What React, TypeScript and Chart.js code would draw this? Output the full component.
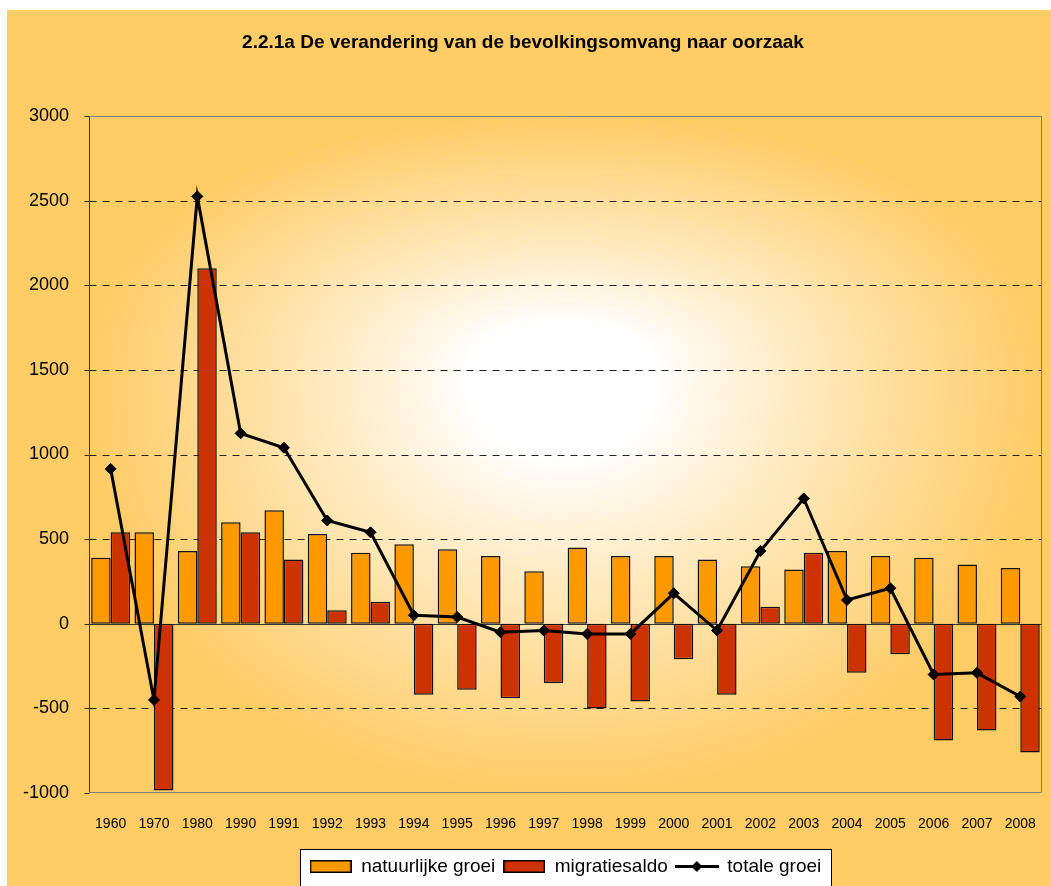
import React, { useEffect, useRef } from 'react';
import { Chart, registerables } from 'chart.js';

Chart.register(...registerables);

const categories = ['1960', '1970', '1980', '1990', '1991', '1992', '1993', '1994', '1995', '1996', '1997', '1998', '1999', '2000', '2001', '2002', '2003', '2004', '2005', '2006', '2007', '2008'];
const natuurlijkeGroei = [390, 540, 430, 600, 670, 530, 420, 470, 440, 400, 310, 450, 400, 400, 380, 340, 320, 430, 400, 390, 350, 330];
const migratiesaldo = [540, -985, 2100, 540, 380, 80, 130, -420, -390, -440, -350, -500, -460, -210, -420, 100, 420, -290, -180, -690, -630, -760];
const totaleGroei = [915, -450, 2525, 1125, 1040, 610, 540, 50, 40, -50, -40, -60, -60, 180, -40, 430, 740, 140, 210, -300, -290, -430];
const seriesNames = ['natuurlijke groei', 'migratiesaldo', 'totale groei'];
const titleText = '2.2.1a De verandering van de bevolkingsomvang naar oorzaak';
const yMin = -1000;
const yMax = 3000;
const yStep = 500;

const ORANGE_BG = [255, 204, 102];
const BAR_ORANGE = '#FF9900';
const BAR_RED = '#CC3300';
const FONT = "Arial, 'Liberation Sans', sans-serif";

function swatch(color: string) {
  const c = document.createElement('canvas');
  c.width = 42; c.height = 13;
  const g = c.getContext('2d')!;
  g.fillStyle = color;
  g.fillRect(1, 1, 40, 11);
  g.strokeStyle = '#000';
  g.lineWidth = 1.5;
  g.strokeRect(0.75, 0.75, 40.5, 11.5);
  return c;
}

function lineSymbol() {
  const c = document.createElement('canvas');
  c.width = 44; c.height = 13;
  const g = c.getContext('2d')!;
  g.strokeStyle = '#000';
  g.lineWidth = 3;
  g.beginPath(); g.moveTo(0, 6.5); g.lineTo(44, 6.5); g.stroke();
  g.fillStyle = '#000';
  g.beginPath(); g.moveTo(22, 1); g.lineTo(27.5, 6.5); g.lineTo(22, 12); g.lineTo(16.5, 6.5); g.closePath(); g.fill();
  return c;
}

let bgCache: { key: string; canvas: HTMLCanvasElement } | null = null;

function plotGradient(w: number, h: number) {
  const key = w + 'x' + h;
  if (bgCache && bgCache.key === key) return bgCache.canvas;
  const c = document.createElement('canvas');
  c.width = w; c.height = h;
  const g = c.getContext('2d')!;
  const img = g.createImageData(w, h);
  const cx = w / 2 - 5;
  const cy = h * 0.38;
  const p = 2.2;
  for (let y = 0; y < h; y++) {
    const ny = (y - cy) / (y < cy ? cy : h - cy);
    for (let x = 0; x < w; x++) {
      const nx = (x - cx) / (x < cx ? cx : w - cx);
      const t = Math.pow(Math.pow(Math.abs(nx), p) + Math.pow(Math.abs(ny), p), 1 / p);
      let f = (t - 0.2) / 0.8;
      f = Math.max(0, Math.min(1, f));
      f = Math.pow(f, 0.9);
      const i = (y * w + x) * 4;
      img.data[i] = 255 + (ORANGE_BG[0] - 255) * f;
      img.data[i + 1] = 255 + (ORANGE_BG[1] - 255) * f;
      img.data[i + 2] = 255 + (ORANGE_BG[2] - 255) * f;
      img.data[i + 3] = 255;
    }
  }
  g.putImageData(img, 0, 0);
  bgCache = { key, canvas: c };
  return c;
}

const decorPlugin = {
  id: 'decor',
  beforeDraw(chart: any) {
    const { ctx, width, height, chartArea: ca } = chart;
    ctx.save();
    ctx.fillStyle = '#ffffff';
    ctx.fillRect(0, 0, width, height);
    ctx.fillStyle = `rgb(${ORANGE_BG.join(',')})`;
    ctx.fillRect(7, 10, width - 7, height - 10);
    const l = Math.round(ca.left), t = Math.round(ca.top);
    const w = Math.round(ca.right) - l, h = Math.round(ca.bottom) - t;
    ctx.drawImage(plotGradient(w, h), l, t);
    const lg = chart.legend;
    if (lg && lg.legendHitBoxes && lg.legendHitBoxes.length) {
      const hb = lg.legendHitBoxes;
      const left = Math.round(Math.min(...hb.map((b: any) => b.left)) - 10);
      const right = Math.round(Math.max(...hb.map((b: any) => b.left + b.width)) + 10);
      const top = Math.round(hb[0].top + hb[0].height / 2 - 18);
      ctx.fillStyle = '#ffffff';
      ctx.fillRect(left, top, right - left, height - top + 10);
      ctx.strokeStyle = '#000';
      ctx.lineWidth = 1;
      ctx.strokeRect(left + 0.5, top + 0.5, right - left, height);
    }
    ctx.restore();
  },
  beforeDatasetsDraw(chart: any) {
    const { ctx, chartArea: ca, scales } = chart;
    const ys = scales.y;
    const L = Math.round(ca.left) + 0.5;
    const R = Math.round(ca.right) - 0.5;
    const T = Math.round(ca.top) + 0.5;
    const B = Math.round(ca.bottom) - 0.5;
    ctx.save();
    ctx.lineWidth = 1;
    ctx.strokeStyle = '#222';
    ctx.setLineDash([7, 6]);
    for (let v = yMin + yStep; v < yMax; v += yStep) {
      if (v === 0) continue;
      const py = Math.round(ys.getPixelForValue(v)) + 0.5;
      ctx.beginPath(); ctx.moveTo(L, py); ctx.lineTo(R, py); ctx.stroke();
    }
    ctx.setLineDash([]);
    ctx.strokeStyle = '#808080';
    ctx.beginPath();
    ctx.moveTo(L, T); ctx.lineTo(R, T); ctx.lineTo(R, B); ctx.lineTo(L, B);
    ctx.stroke();
    const z = Math.round(ys.getPixelForValue(0)) + 0.5;
    ctx.strokeStyle = '#333';
    ctx.beginPath(); ctx.moveTo(L, z); ctx.lineTo(R, z); ctx.stroke();
    ctx.beginPath(); ctx.moveTo(L, T); ctx.lineTo(L, B); ctx.stroke();
    for (let v = yMin; v <= yMax; v += yStep) {
      const py = Math.round(ys.getPixelForValue(v)) + 0.5;
      ctx.beginPath(); ctx.moveTo(L - 5, py); ctx.lineTo(L, py); ctx.stroke();
    }
    ctx.restore();
  },
};

export default function App() {
  const ref = useRef<HTMLCanvasElement | null>(null);
  useEffect(() => {
    if (!ref.current) return;
    const symbols = [swatch(BAR_ORANGE), swatch(BAR_RED), lineSymbol()];
    const chart = new Chart(ref.current, {
      type: 'bar',
      data: {
        labels: categories,
        datasets: [
          {
            type: 'line',
            label: seriesNames[2],
            data: totaleGroei,
            borderColor: '#000',
            backgroundColor: '#000',
            borderWidth: 3,
            pointStyle: 'rectRot',
            pointRadius: 5.5,
            pointBackgroundColor: '#000',
            pointBorderColor: '#000',
            pointBorderWidth: 1,
            tension: 0,
            order: 0,
          } as any,
          {
            type: 'bar',
            label: seriesNames[0],
            data: natuurlijkeGroei,
            backgroundColor: BAR_ORANGE,
            borderColor: '#111',
            borderWidth: 1.5,
            borderSkipped: false,
            categoryPercentage: 0.9,
            barPercentage: 1.0,
            order: 1,
          },
          {
            type: 'bar',
            label: seriesNames[1],
            data: migratiesaldo,
            backgroundColor: BAR_RED,
            borderColor: '#111',
            borderWidth: 1.5,
            borderSkipped: false,
            categoryPercentage: 0.9,
            barPercentage: 1.0,
            order: 1,
          },
        ],
      },
      options: {
        responsive: false,
        animation: false,
        layout: { padding: { left: 0, right: 5, top: 0, bottom: 0 } },
        scales: {
          x: {
            type: 'category',
            offset: true,
            grid: { display: false },
            border: { display: false },
            ticks: {
              color: '#000',
              font: { family: FONT, size: 14 },
              padding: 15,
              maxRotation: 0,
              autoSkip: false,
            },
            afterFit: (s: any) => { s.height = 56; },
          },
          y: {
            min: yMin,
            max: yMax,
            grid: { display: false },
            border: { display: false },
            ticks: {
              stepSize: yStep,
              color: '#000',
              font: { family: FONT, size: 18 },
              padding: 12,
              callback: (v: any) => String(v),
            },
            afterFit: (s: any) => { s.width = 89; },
          },
        },
        plugins: {
          title: {
            display: true,
            text: titleText,
            color: '#000',
            font: { family: FONT, size: 19, weight: 'bold' },
            padding: { top: 31.6, bottom: 61.6 },
          },
          legend: {
            display: true,
            position: 'bottom',
            fullSize: false,
            onClick: () => {},
            labels: {
              color: '#000',
              font: { family: FONT, size: 19 },
              usePointStyle: true,
              pointStyleWidth: 42,
              padding: 8,
              generateLabels: () => [0, 1, 2].map((i) => ({
                text: seriesNames[i],
                pointStyle: symbols[i],
                fillStyle: 'transparent',
                strokeStyle: 'transparent',
                lineWidth: 0,
                hidden: false,
                fontColor: '#000',
                datasetIndex: i === 2 ? 0 : i + 1,
              })),
            },
          },
          tooltip: { enabled: false },
        },
      } as any,
      plugins: [decorPlugin],
    });
    return () => chart.destroy();
  }, []);
  return (
    <div style={{ position: 'fixed', left: 0, top: 0, width: 1051, height: 886, overflow: 'hidden', background: '#fff' }}>
      <canvas ref={ref} width={1051} height={886} style={{ display: 'block' }} />
    </div>
  );
}
